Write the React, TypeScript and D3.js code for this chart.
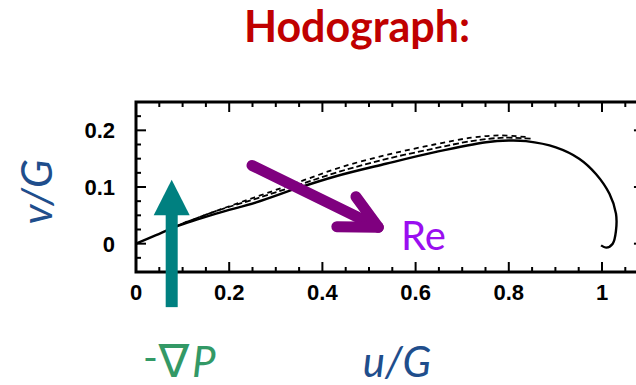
import React from 'react';
import * as d3 from 'd3';

// Solid hodograph curve (u/G, v/G)
const solidU = [0, 0.043, 0.086, 0.172, 0.258, 0.343, 0.429, 0.536, 0.644, 0.751, 0.8, 0.837, 0.901, 0.951, 0.987, 1.016, 1.030, 1.030, 1.023, 1.009, 0.998];
const solidV = [0, 0.015, 0.030, 0.053, 0.073, 0.097, 0.119, 0.141, 0.162, 0.179, 0.182, 0.181, 0.170, 0.150, 0.123, 0.088, 0.053, 0.023, 0.0, -0.007, -0.003];
// Dashed curves (other Re)
const dashAU = [0.07, 0.17, 0.26, 0.35, 0.44, 0.54, 0.64, 0.72, 0.79, 0.85];
const dashAV = [0.026, 0.057, 0.080, 0.104, 0.128, 0.150, 0.168, 0.181, 0.187, 0.185];
const dashBU = [0.10, 0.20, 0.28, 0.36, 0.44, 0.54, 0.64, 0.72, 0.78, 0.84];
const dashBV = [0.036, 0.066, 0.089, 0.112, 0.135, 0.157, 0.175, 0.187, 0.191, 0.188];

const xTickLabels = [0, 0.2, 0.4, 0.6, 0.8, 1];
const yTickLabels = [0, 0.1, 0.2];
const xDomain = [0, 1.09];
const yDomain = [-0.05, 0.25];

// Annotation anchors in data units
const gradArrow = { u: 0.0766, tipV: 0.113, headV: 0.051, baseV: -0.112 };
const reArrow = { u0: 0.249, v0: 0.138, u1: 0.52, v1: 0.029, barbAU: 0.472, barbAV: 0.083, barbBU: 0.431, barbBV: 0.030 };

const W = 636;
const H = 385;

export default function App() {
  const x = d3.scaleLinear().domain(xDomain).range([136, 136 + 466 * 1.09]);
  const y = d3.scaleLinear().domain(yDomain).range([272, 102]);

  const line = d3
    .line<[number, number]>()
    .x((d) => x(d[0]))
    .y((d) => y(d[1]))
    .curve(d3.curveCatmullRom.alpha(0.5));

  const solid = line(solidU.map((u, i) => [u, solidV[i]]))!;
  const dashA = line(dashAU.map((u, i) => [u, dashAV[i]]))!;
  const dashB = line(dashBU.map((u, i) => [u, dashBV[i]]))!;

  const [x0, x1] = x.range();
  const [yb, yt] = y.range();

  const xMinor = d3.range(0, 1.0901, 0.05).map((v) => +v.toFixed(3));
  const yMinor = d3.range(-0.05, 0.2501, 0.025).map((v) => +v.toFixed(3));
  const isMajX = (v: number) => Math.abs(v / 0.2 - Math.round(v / 0.2)) < 1e-6;
  const isMajY = (v: number) => Math.abs(v / 0.1 - Math.round(v / 0.1)) < 1e-6;

  const tickFont = "'Liberation Sans', Arial, sans-serif";
  const calibri = "Lato, 'Open Sans', sans-serif";

  const ga = gradArrow;
  const gx = x(ga.u);
  const ra = reArrow;

  return (
    <svg width={W} height={H} style={{ position: 'absolute', left: 0, top: 0 }}>
      <rect width={W} height={H} fill="#fff" />
      <text x={357} y={42} textAnchor="middle" fontFamily={calibri} fontWeight={700} fontSize={43} fill="#C00000">
        Hodograph:
      </text>

      {/* curves */}
      <path d={dashB} fill="none" stroke="#000" strokeWidth={1.8} strokeDasharray="5 4" />
      <path d={dashA} fill="none" stroke="#000" strokeWidth={1.8} strokeDasharray="6 3" />
      <path d={solid} fill="none" stroke="#000" strokeWidth={2.4} />

      {/* frame ticks */}
      {xMinor.map((v) => {
        const len = isMajX(v) ? 10 : 5;
        return (
          <g key={'xt' + v}>
            <line x1={x(v)} x2={x(v)} y1={yb} y2={yb - len} stroke="#000" strokeWidth={2} />
            <line x1={x(v)} x2={x(v)} y1={yt} y2={yt + len} stroke="#000" strokeWidth={2} />
          </g>
        );
      })}
      {yMinor.map((v) => {
        const len = isMajY(v) ? 10 : 5;
        return (
          <g key={'yt' + v}>
            <line x1={x0} x2={x0 + len} y1={y(v)} y2={y(v)} stroke="#000" strokeWidth={2} />
            <line x1={x1} x2={x1 - len} y1={y(v)} y2={y(v)} stroke="#000" strokeWidth={2} />
          </g>
        );
      })}
      <rect x={x0} y={yt} width={x1 - x0} height={yb - yt} fill="none" stroke="#000" strokeWidth={3} />

      {/* tick labels */}
      {xTickLabels.map((v) => (
        <text key={'xl' + v} x={x(v)} y={300} textAnchor="middle" fontFamily={tickFont} fontWeight={700} fontSize={22} fill="#000">
          {String(v)}
        </text>
      ))}
      {yTickLabels.map((v) => (
        <text key={'yl' + v} x={115} y={y(v) + 8} textAnchor="end" fontFamily={tickFont} fontWeight={700} fontSize={22} fill="#000">
          {String(v)}
        </text>
      ))}

      {/* teal arrow (-grad P) */}
      <rect x={gx - 6} y={y(ga.headV)} width={12} height={y(ga.baseV) - y(ga.headV)} fill="#008080" />
      <path d={`M${gx - 18},${y(ga.headV) + 0.5} L${gx + 18},${y(ga.headV) + 0.5} L${gx},${y(ga.tipV)} Z`} fill="#008080" />

      {/* purple arrow (Re) */}
      <g stroke="#7F007F" strokeWidth={11} strokeLinecap="round" strokeLinejoin="round" fill="none">
        <line x1={x(ra.u0)} y1={y(ra.v0)} x2={x(ra.u1)} y2={y(ra.v1)} />
        <polyline points={`${x(ra.barbAU)},${y(ra.barbAV)} ${x(ra.u1)},${y(ra.v1)} ${x(ra.barbBU)},${y(ra.barbBV)}`} />
      </g>
      <text x={401} y={250} fontFamily={calibri} fontSize={40} fill="#9A0EF0">Re</text>

      {/* axis titles */}
      <text x={397} y={377} textAnchor="middle" fontFamily={calibri} fontStyle="italic" fontSize={42} fill="#1F4E8C">u/G</text>
      <text transform="translate(52,192) rotate(-90)" textAnchor="middle" fontFamily={calibri} fontStyle="italic" fontSize={42} fill="#1F4E8C">v/G</text>
      <text x={143} y={372} fontFamily={calibri} fontSize={40} fill="#339966">-</text>
      <text x={174} y={377} textAnchor="middle" fontFamily={"'DejaVu Sans', sans-serif"} fontSize={46} fill="#339966">∇</text>
      <text x={192} y={377} fontFamily={calibri} fontStyle="italic" fontSize={42} fill="#339966">P</text>
    </svg>
  );
}
